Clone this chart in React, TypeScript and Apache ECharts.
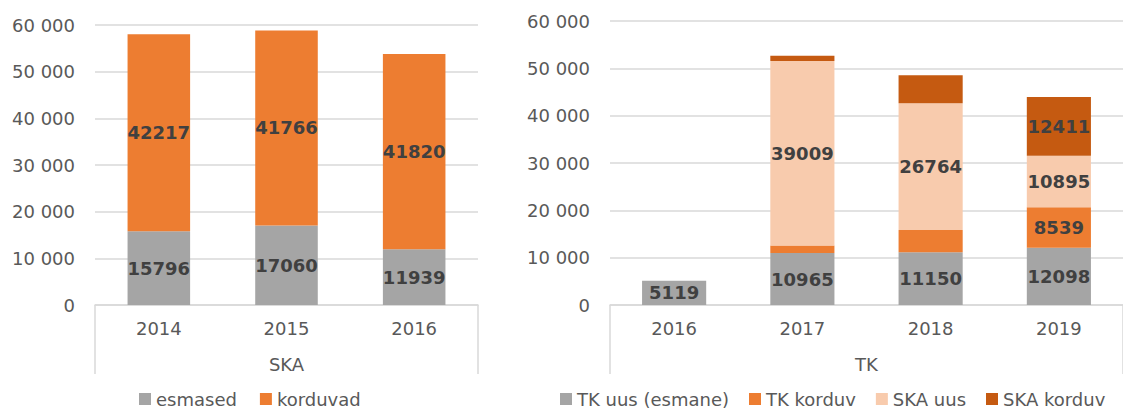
import React, { useEffect, useRef } from "react";
import * as echarts from "echarts";

const skaYears = ["2014", "2015", "2016"];
const skaGroup = ["SKA"];
const skaEsmased = [15796, 17060, 11939];
const skaKorduvad = [42217, 41766, 41820];

const tkYears = ["2016", "2017", "2018", "2019"];
const tkGroup = ["TK"];
const tkUus = [5119, 10965, 11150, 12098];
const tkKorduv = [null, 1600, 4700, 8539];
const skaUus = [null, 39009, 26764, 10895];
const skaKorduv = [null, 1100, 5900, 12411];
// which right-chart segments carry a data label
const tkKorduvLabel = [false, false, false, true];
const skaKorduvLabel = [false, false, false, true];

const yTicks = { min: 0, max: 60000, interval: 10000 };

const FONT = "DejaVu Sans";
const GRID_COLOR = "#D9D9D9";
const TEXT_COLOR = "#595959";
const LABEL_COLOR = "#404040";
const C_GRAY = "#A5A5A5";
const C_ORANGE = "#ED7D31";
const C_PEACH = "#F8CBAD";
const C_DARK = "#C55A11";

const fmt = (v: number) => (v === 0 ? "0" : String(v).replace(/\B(?=(\d{3})+(?!\d))/g, " "));

const dataLabel = {
  show: true,
  position: "inside",
  color: LABEL_COLOR,
  fontFamily: FONT,
  fontWeight: "bold",
  fontSize: 18,
};

function withLabels(vals: (number | null)[], flags: boolean[]) {
  return vals.map((v, i) => ({ value: v, label: { show: flags[i] } }));
}

export default function App() {
  const ref = useRef<HTMLDivElement>(null);
  useEffect(() => {
    if (!ref.current) return;
    const chart = echarts.init(ref.current, null, { renderer: "svg" });
    const yAxisBase = (gridIndex: number) => ({
      type: "value",
      gridIndex,
      ...yTicks,
      axisLine: { show: false },
      axisTick: { show: false },
      axisLabel: { color: TEXT_COLOR, fontFamily: FONT, fontSize: 18, margin: 20, formatter: fmt },
      splitLine: { lineStyle: { color: GRID_COLOR, width: 1.5 } },
    });
    const catAxis = (gridIndex: number, data: string[]) => ({
      type: "category",
      gridIndex,
      data,
      position: "bottom",
      axisLine: { show: true, lineStyle: { color: GRID_COLOR, width: 1.5 } },
      axisTick: { show: false },
      axisLabel: { color: TEXT_COLOR, fontFamily: FONT, fontSize: 18, margin: 14 },
    });
    const groupAxis = (gridIndex: number, data: string[]) => ({
      type: "category",
      gridIndex,
      data,
      position: "bottom",
      axisLine: { show: false },
      axisTick: { show: true, length: 69, lineStyle: { color: GRID_COLOR, width: 1.5 } },
      axisLabel: { color: TEXT_COLOR, fontFamily: FONT, fontSize: 18, margin: 50 },
    });
    const legendText = { color: TEXT_COLOR, fontFamily: FONT, fontSize: 18, lineHeight: 18 };
    chart.setOption({
      animation: false,
      grid: [
        { left: 95, top: 25, width: 383, height: 280 },
        { left: 610, top: 21, width: 524, height: 284 },
      ],
      legend: [
        {
          left: 139,
          top: 390,
          padding: 0,
          itemWidth: 12,
          itemHeight: 12,
          itemGap: 23,
          icon: "rect",
          textStyle: legendText,
          data: ["esmased", "korduvad"],
        },
        {
          left: 560,
          top: 390,
          padding: 0,
          itemWidth: 12,
          itemHeight: 12,
          itemGap: 20,
          icon: "rect",
          textStyle: legendText,
          data: ["TK uus (esmane)", "TK korduv", "SKA uus", "SKA korduv"],
        },
      ],
      xAxis: [catAxis(0, skaYears), groupAxis(0, skaGroup), catAxis(1, tkYears), groupAxis(1, tkGroup)],
      yAxis: [yAxisBase(0), yAxisBase(1)],
      series: [
        {
          name: "esmased",
          type: "bar",
          stack: "ska",
          xAxisIndex: 0,
          yAxisIndex: 0,
          barWidth: "49%",
          itemStyle: { color: C_GRAY },
          label: dataLabel,
          data: skaEsmased,
        },
        {
          name: "korduvad",
          type: "bar",
          stack: "ska",
          xAxisIndex: 0,
          yAxisIndex: 0,
          barWidth: "49%",
          itemStyle: { color: C_ORANGE },
          label: dataLabel,
          data: skaKorduvad,
        },
        {
          name: "TK uus (esmane)",
          type: "bar",
          stack: "tk",
          xAxisIndex: 2,
          yAxisIndex: 1,
          barWidth: "50%",
          itemStyle: { color: C_GRAY },
          label: dataLabel,
          data: tkUus,
        },
        {
          name: "TK korduv",
          type: "bar",
          stack: "tk",
          xAxisIndex: 2,
          yAxisIndex: 1,
          barWidth: "50%",
          itemStyle: { color: C_ORANGE },
          label: dataLabel,
          data: withLabels(tkKorduv, tkKorduvLabel),
        },
        {
          name: "SKA uus",
          type: "bar",
          stack: "tk",
          xAxisIndex: 2,
          yAxisIndex: 1,
          barWidth: "50%",
          itemStyle: { color: C_PEACH },
          label: dataLabel,
          data: skaUus,
        },
        {
          name: "SKA korduv",
          type: "bar",
          stack: "tk",
          xAxisIndex: 2,
          yAxisIndex: 1,
          barWidth: "50%",
          itemStyle: { color: C_DARK },
          label: dataLabel,
          data: withLabels(skaKorduv, skaKorduvLabel),
        },
      ],
    });
    return () => chart.dispose();
  }, []);
  return (
    <div
      ref={ref}
      style={{ position: "absolute", left: 0, top: 0, width: 1123, height: 410, background: "#fff" }}
    />
  );
}
